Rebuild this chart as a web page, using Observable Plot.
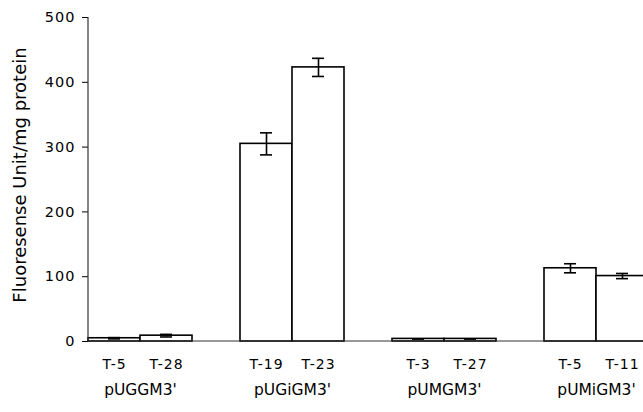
<!DOCTYPE html>
<html>
<head>
<meta charset="utf-8">
<script src="https://cdn.jsdelivr.net/npm/d3@7"></script>
<script src="https://cdn.jsdelivr.net/npm/@observablehq/plot@0.6"></script>
<style>
  html, body { margin: 0; padding: 0; background: #fff; }
  svg { display: block; }
</style>
</head>
<body>
<div id="chart"></div>
<script>
const groups = ["pUGGM3'", "pUGiGM3'", "pUMGM3'", "pUMiGM3'"];
const sampleGroups = ["pUGGM3'", "pUGGM3'", "pUGiGM3'", "pUGiGM3'", "pUMGM3'", "pUMGM3'", "pUMiGM3'", "pUMiGM3'"];
const sampleLabels = ["T-5", "T-28", "T-19", "T-23", "T-3", "T-27", "T-5", "T-11"];
const values = [5, 9, 305, 423, 4, 4, 113, 101];
const errors = [1, 2, 17, 14, 0, 0, 7, 4];
const yTicks = [0, 100, 200, 300, 400, 500];
const yLabel = "Fluoresense Unit/mg protein";

const counter = {};
const data = values.map((v, i) => {
  const g = sampleGroups[i];
  counter[g] = (counter[g] || 0);
  const slot = String(counter[g]++);
  return {group: g, slot, label: sampleLabels[i], value: v, lo: v - errors[i], hi: v + errors[i]};
});

const W = 643, H = 412;
const left = 88;
const font = "'DejaVu Sans', sans-serif";

const plot = Plot.plot({
  width: W,
  height: H,
  marginTop: 17,
  marginBottom: 71,
  marginLeft: left,
  marginRight: 0,
  style: {fontFamily: font, fontSize: "14px", color: "#000", background: "#fff"},
  fx: {domain: groups, range: [left, 648], paddingInner: 0.316, paddingOuter: 0, axis: null},
  x: {domain: ["0", "1"], padding: 0, axis: null},
  y: {domain: [0, 500], axis: null},
  marks: [
    Plot.barY(data, {fx: "group", x: "slot", y: "value", fill: "#fff", stroke: "#000", strokeWidth: 1.6}),
    Plot.ruleX(data, {fx: "group", x: "slot", y1: "lo", y2: "hi", stroke: "#000", strokeWidth: 1.6}),
    Plot.tickY(data, {fx: "group", x: "slot", y: "lo", stroke: "#000", strokeWidth: 1.6, insetLeft: 20, insetRight: 20}),
    Plot.tickY(data, {fx: "group", x: "slot", y: "hi", stroke: "#000", strokeWidth: 1.6, insetLeft: 20, insetRight: 20}),
    Plot.text(data, {fx: "group", x: "slot", text: "label", frameAnchor: "bottom", dy: 23, lineAnchor: "middle", fontSize: 14, fill: "#000", className: "spaced"}),
    Plot.text(groups, {fx: d => d, text: d => d, frameAnchor: "bottom", dy: 49, lineAnchor: "middle", fontSize: 15.5, fill: "#000"}),
    Plot.axisY({ticks: yTicks, tickSize: 6, tickPadding: 7, fontSize: 14.5, label: null, stroke: "#000", className: "spaced"})
  ]
});

const ys = plot.scale("y");
const svg = d3.select(plot);
svg.selectAll(".spaced text").style("letter-spacing", "1px");
const y0 = ys.apply(0), yTop = ys.apply(500);
svg.append("line")
  .attr("x1", left).attr("x2", W)
  .attr("y1", y0).attr("y2", y0)
  .attr("stroke", "#333").attr("stroke-width", 1.2);
svg.append("line")
  .attr("x1", left).attr("x2", left)
  .attr("y1", yTop).attr("y2", y0)
  .attr("stroke", "#333").attr("stroke-width", 1.2);
svg.append("text")
  .attr("transform", `translate(26,${(y0 + yTop) / 2 - 4}) rotate(-90)`)
  .attr("text-anchor", "middle")
  .attr("font-family", font)
  .attr("font-size", 18)
  .attr("fill", "#000")
  .text(yLabel);

document.getElementById("chart").append(plot);
</script>
</body>
</html>
